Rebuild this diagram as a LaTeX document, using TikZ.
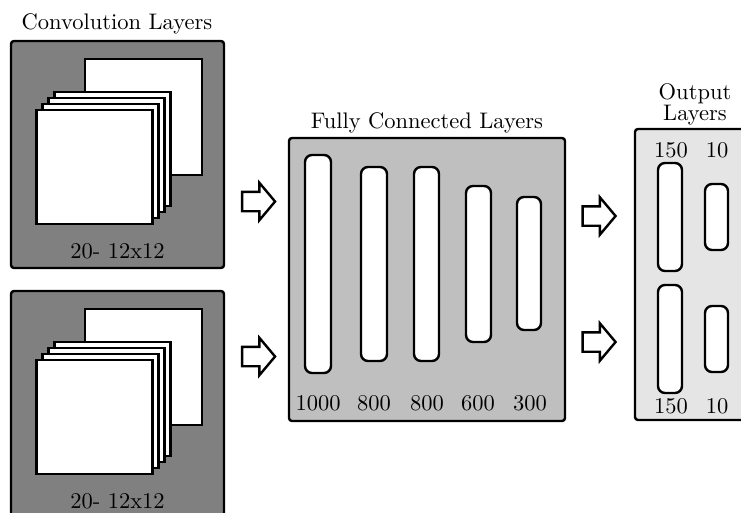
\documentclass[tikz,border=0pt]{standalone}
\usepackage{fontspec}
\setmainfont{lmroman10-regular.otf}
\usetikzlibrary{shapes.arrows}
\begin{document}
\begin{tikzpicture}[x=1pt,y=-1pt,
  lw/.style={line width=2.4pt},
  every node/.style={font=\fontsize{22.5}{26}\selectfont, inner sep=0pt, outer sep=0pt},
  frame/.style={lw, draw=black, rounded corners=3pt},
  convframe/.style={frame, fill=black!50},
  fcframe/.style={frame, fill=black!25},
  outframe/.style={frame, fill=black!10},
  sq/.style={lw, draw=black, fill=white, rectangle, minimum width=116pt, minimum height=114pt},
  bigsq/.style={lw, draw=black, fill=white, rectangle, minimum width=117pt, minimum height=116pt},
  bar/.style={lw, draw=black, fill=white, rectangle, rounded corners=7pt, minimum width=#1},
  bar/.default=25pt,
  fatarrow/.style={single arrow, draw=black, fill=white, lw, minimum height=33pt, inner xsep=0pt, inner ysep=8.5pt, single arrow head extend=9pt, single arrow tip angle=100},
  lbl/.style={anchor=base}
]
\useasboundingbox (0,0) rectangle (741,512);
\clip (0,0) rectangle (741,512);

% ---------- convolution layers ----------
\node[lbl] (convtitle) at (117,29) {Convolution Layers};
\foreach \n/\dy in {A/0, B/250} {
  \draw[convframe] (11,41+\dy) rectangle (224,268+\dy);
  \node[bigsq] (back\n) at (143.5,117+\dy) {};
  \node[sq] (s\n4) at (112.5,149+\dy) {};
  \node[sq] (s\n3) at (106.5,155+\dy) {};
  \node[sq] (s\n2) at (100.5,161+\dy) {};
  \node[sq] (s\n1) at (94.5,167+\dy) {};
  \node[lbl] (convlbl\n) at (117.5,258+\dy) {20- 12x12};
}

% ---------- arrows ----------
\node[fatarrow] (arrA) at (254.5,201.5) {};
\node[fatarrow] (arrB) at (254.5,356.5) {};
\node[fatarrow] (arrC) at (595,216) {};
\node[fatarrow] (arrD) at (595,342) {};

% ---------- fully connected layers ----------
\node[lbl] (fctitle) at (427,128) {Fully Connected Layers};
\draw[fcframe] (289,138) rectangle (565,421);
\node[bar=26pt, minimum height=218pt] (fc1) at (318,264) {};
\node[bar=26pt, minimum height=194pt] (fc2) at (374,264) {};
\node[bar, minimum height=194pt] (fc3) at (426.5,264) {};
\node[bar, minimum height=156pt] (fc4) at (478.5,264) {};
\node[bar=24pt, minimum height=133pt] (fc5) at (529,263.5) {};
\node[lbl] (fcl1) at (318,410) {1000};
\node[lbl] (fcl2) at (374,410) {800};
\node[lbl] (fcl3) at (427,410) {800};
\node[lbl] (fcl4) at (478,410) {600};
\node[lbl] (fcl5) at (530,410) {300};

% ---------- output layers ----------
\node[align=center, anchor=base, font=\fontsize{22.5}{21}\selectfont] (outtitle) at (695,120) {Output\\Layers};
\draw[outframe] (635,129) rectangle (780,420);
\node[bar=24pt, minimum height=108pt] (o1) at (670,217) {};
\node[bar=23pt, minimum height=66pt] (o2) at (716.5,217) {};
\node[bar=24pt, minimum height=108pt] (o3) at (670,339) {};
\node[bar=23pt, minimum height=66pt] (o4) at (716.5,339) {};
\node[lbl] (ol1) at (671,157) {150};
\node[lbl] (ol2) at (717,157) {10};
\node[lbl] (ol3) at (671,413) {150};
\node[lbl] (ol4) at (717,413) {10};
\end{tikzpicture}
\end{document}
